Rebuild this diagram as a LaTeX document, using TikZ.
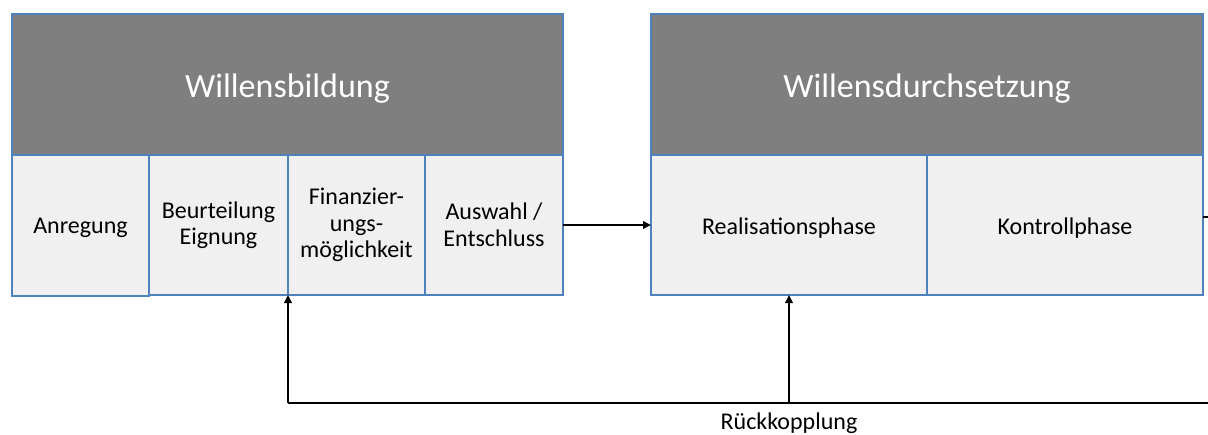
\documentclass[tikz,border=0pt]{standalone}
\usepackage{fontspec}
\setmainfont{Carlito}
\usetikzlibrary{arrows.meta}
\definecolor{hdrgray}{RGB}{127,127,127}
\definecolor{boxfill}{RGB}{240,240,240}
\definecolor{boxline}{RGB}{79,129,189}
\newcommand{\lowerby}[2]{\raisebox{-#1}[\height][\depth]{#2}}
\tikzset{
  cell/.style={anchor=north west, inner sep=0pt, outer sep=0pt, align=center},
  hdr/.style={cell, fill=hdrgray, text=white, minimum height=141pt, font=\fontsize{34}{40}\selectfont},
  sub/.style={cell, fill=boxfill, text=black, minimum height=140pt, font=\fontsize{24}{26.5}\selectfont},
  frame/.style={draw=boxline, line width=1.3pt},
  conn/.style={line width=1.9pt, -{Triangle[length=8pt,width=7.5pt]}},
  plain/.style={line width=1.9pt}
}
\begin{document}
\begin{tikzpicture}[x=1pt,y=-1pt]
\useasboundingbox (0,0) rectangle (1208,434);
% left block
\node[hdr, minimum width=551pt] (wb) at (12,14) {\lowerby{4pt}{Willensbildung}};
\node[sub, minimum width=137pt, minimum height=141pt] (anr) at (12,155) {\lowerby{2pt}{Anregung}};
\node[sub, minimum width=139pt] (beu) at (149,155) {Beurteilung\\Eignung};
\node[sub, minimum width=137pt] (fin) at (288,155) {Finanzier-\\ungs-\\möglichkeit};
\node[sub, minimum width=138pt] (aus) at (425,155) {Auswahl /\\Entschluss};
% right block
\node[hdr, minimum width=552pt] (wd) at (651,14) {\lowerby{4pt}{Willensdurchsetzung}};
\node[sub, minimum width=276pt] (rea) at (651,155) {\lowerby{3pt}{Realisationsphase}};
\node[sub, minimum width=276pt] (kon) at (927,155) {\lowerby{3pt}{Kontrollphase}};
% frames on top of the fills
\foreach \n in {wb,anr,beu,fin,aus,wd,rea,kon}
  \draw[frame] (\n.north west) rectangle (\n.south east);
% connectors
\coordinate (outR) at (1215,217);
\coordinate (outB) at (1215,403);
\coordinate (c1) at (288,403);
\coordinate (c2) at (789,403);
\draw[conn] (aus.east) -- (rea.west);
\draw[plain] (kon.east |- outR) -- (outR);
\draw[plain] (outB) -- (c1);
\draw[conn] (c1) -- (fin.south west);
\draw[conn] (c2) -- (rea.south);
\node[font=\fontsize{24}{26}\selectfont] (rk) at (789,423) {Rückkopplung};
\end{tikzpicture}
\end{document}
